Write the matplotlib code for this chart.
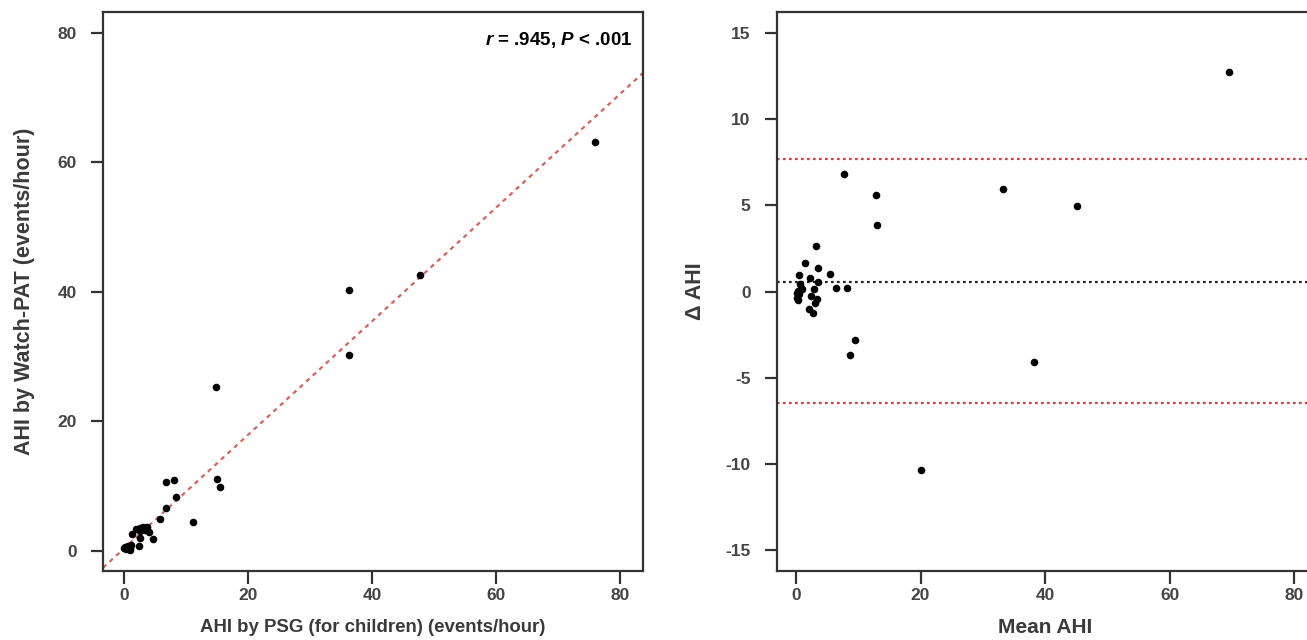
import matplotlib
matplotlib.use("Agg")
import matplotlib.pyplot as plt
import numpy as np

# ---- data: left panel (PSG vs Watch-PAT) ----
psg_ahi = [76.0, 47.7, 36.2, 36.2, 14.9, 15.0, 15.5, 11.1, 6.8, 8.1, 8.4, 6.8, 5.8,
           1.9, 2.5, 3.0, 3.7, 3.3, 2.6, 4.1, 1.2, 4.6, 2.5, 2.4,
           0.7, 0.2, 0.0, 0.9, 0.5, 1.0, 0.3, 1.1]
pat_ahi = [63.2, 42.6, 40.3, 30.3, 25.3, 11.1, 9.9, 4.4, 10.7, 11.0, 8.3, 6.6, 4.9,
           3.4, 3.5, 3.7, 3.7, 3.2, 3.0, 2.9, 2.6, 1.9, 2.0, 0.8,
           0.8, 0.6, 0.4, 0.2, 0.6, 0.5, 0.3, 0.9]
reg_intercept = 0.38
reg_slope = 0.877
annot_text = r"$r$ = .945, $P$ < .001"

# ---- data: right panel (Bland-Altman) ----
ba_mean = [69.6, 45.2, 38.2, 33.2, 20.0, 13.05, 12.8, 7.7, 8.7, 9.5, 8.2, 6.5, 5.4,
           3.2, 1.5, 3.6, 0.5, 2.25, 3.6, 0.6, 2.9, 2.35, 3.3, 3.05, 2.1, 2.7,
           0.8, 0.4, 0.1, 0.9, 0.5, 0.2, 0.4]
ba_diff = [12.7, 4.94, -4.09, 5.96, -10.35, 3.88, 5.62, 6.83, -3.7, -2.84, 0.21, 0.21, 1.02,
           2.66, 1.66, 1.37, 0.93, 0.79, 0.54, 0.41, 0.12, -0.27, -0.42, -0.65, -1.04, -1.23,
           0.21, 0.02, -0.08, 0.12, -0.17, -0.37, -0.5]
ba_bias = 0.55
ba_upper = 7.7
ba_lower = -6.45

left_xticks = [0, 20, 40, 60, 80]
left_yticks = [0, 20, 40, 60, 80]
right_xticks = [0, 20, 40, 60, 80]
right_yticks = [-15, -10, -5, 0, 5, 10, 15]

plt.rcParams['font.family'] = ['Liberation Sans', 'DejaVu Sans']
plt.rcParams['axes.unicode_minus'] = False
plt.rcParams['mathtext.fontset'] = 'custom'
plt.rcParams['mathtext.it'] = 'Liberation Sans:italic:bold'
plt.rcParams['mathtext.rm'] = 'Liberation Sans:bold'

W, H = 1307, 640
fig = plt.figure(figsize=(W / 100, H / 100), dpi=100)

spine_col = '#333333'
tick_col = '#444444'
lab_col = '#3a3a3a'

def style(ax):
    for s in ax.spines.values():
        s.set_linewidth(1.6)
        s.set_color(spine_col)
    ax.tick_params(direction='out', length=9, width=1.6, color=spine_col,
                   labelsize=12.5, labelcolor=tick_col)
    ax.tick_params(axis='x', pad=3)
    ax.tick_params(axis='y', pad=10)
    for lab in ax.get_xticklabels() + ax.get_yticklabels():
        lab.set_fontweight('bold')

# Left panel
ax1 = fig.add_axes([103 / W, (H - 571) / H, 540 / W, 559 / H])
ax1.scatter(psg_ahi, pat_ahi, s=30, c='black', zorder=3, linewidths=0)
xl = np.array([-3.4, 83.7])
ax1.plot(xl, reg_intercept + reg_slope * xl, color='#d9625e', ls=(0, (2, 2)), lw=1.6)
ax1.set_xlim(-3.4, 83.7)
ax1.set_ylim(-3.1, 83.2)
ax1.set_xticks(left_xticks)
ax1.set_yticks(left_yticks)
style(ax1)
ax1.set_xlabel('AHI by PSG (for children) (events/hour)', fontsize=13.4, fontweight='bold',
               color=lab_col, labelpad=12)
ax1.set_ylabel('AHI by Watch-PAT (events/hour)', fontsize=15.5, fontweight='bold',
               color=lab_col, labelpad=16)
ax1.text(0.98, 0.967, annot_text, transform=ax1.transAxes, ha='right', va='top',
         fontsize=13.5, fontweight='bold', color='black')

# Right panel
ax2 = fig.add_axes([777 / W, (H - 571) / H, 537 / W, 559 / H])
ax2.scatter(ba_mean, ba_diff, s=30, c='black', zorder=3, linewidths=0)
ax2.axhline(ba_bias, color='#222222', ls=(0, (1.2, 1.5)), lw=1.6)
ax2.axhline(ba_upper, color='#e0393b', ls=(0, (1.2, 1.5)), lw=1.6)
ax2.axhline(ba_lower, color='#e0393b', ls=(0, (1.2, 1.5)), lw=1.6)
ax2.set_xlim(-3.05, 83.2)
ax2.set_ylim(-16.2, 16.2)
ax2.set_xticks(right_xticks)
ax2.set_yticks(right_yticks)
style(ax2)
ax2.set_xlabel('Mean AHI', fontsize=15, fontweight='bold', color=lab_col, labelpad=11)
ax2.set_ylabel('Δ AHI', fontsize=15.5, fontweight='bold', color=lab_col, labelpad=14)

fig.savefig('out.png', dpi=100)
